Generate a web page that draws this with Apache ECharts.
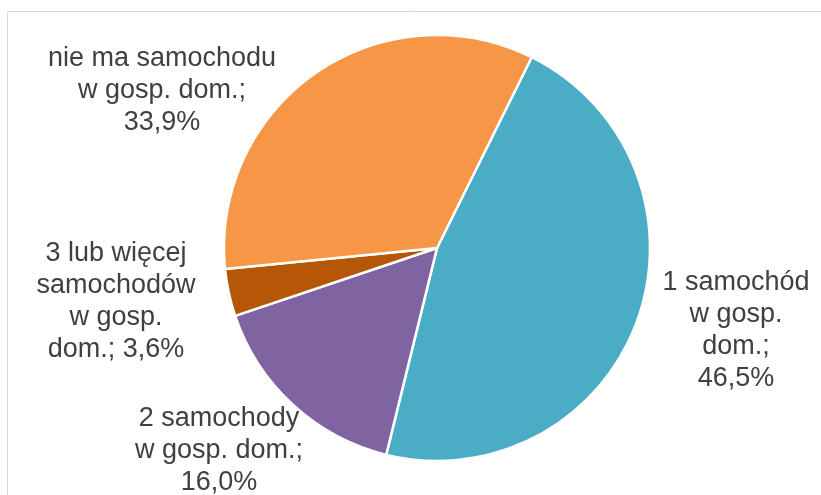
<!DOCTYPE html>
<html>
<head>
<meta charset="utf-8">
<script src="https://cdn.jsdelivr.net/npm/echarts@6/dist/echarts.min.js"></script>
<style>
html,body{margin:0;padding:0;background:#fff;}
#chart{width:821px;height:495px;}
</style>
</head>
<body>
<div id="chart"></div>
<script>
// Data
const categories = ['1 samochód w gosp. dom.', '2 samochody w gosp. dom.', '3 lub więcej samochodów w gosp. dom.', 'nie ma samochodu w gosp. dom.'];
const values = [46.5, 16.0, 3.6, 33.9];
const labelLines = [
  ['1 samochód', 'w gosp.', 'dom.;', '46,5%'],
  ['2 samochody', 'w gosp. dom.;', '16,0%'],
  ['3 lub więcej', 'samochodów', 'w gosp.', 'dom.; 3,6%'],
  ['nie ma samochodu', 'w gosp. dom.;', '33,9%']
];
const colors = ['#4BACC6', '#8064A2', '#B65708', '#F79646'];

// Label placement (centres of label blocks, Excel-like layout)
const labelPos = [[736, 331], [219, 451], [116, 302], [162, 91]];

const chart = echarts.init(document.getElementById('chart'), null, {renderer: 'canvas'});
chart.setOption({
  animation: false,
  graphic: [{
    type: 'rect',
    shape: {x: 7.5, y: 11.5, width: 900, height: 600},
    style: {fill: 'none', stroke: '#D9D9D9', lineWidth: 1},
    silent: true
  }],
  series: [{
    type: 'pie',
    center: [437, 248],
    radius: 213,
    startAngle: 63.6,
    clockwise: true,
    data: categories.map((c, i) => ({
      name: c,
      value: values[i],
      itemStyle: {color: colors[i]},
      label: {formatter: labelLines[i].join('\n')}
    })),
    itemStyle: {borderColor: '#ffffff', borderWidth: 2.5},
    label: {
      show: true,
      position: 'outside',
      alignTo: 'none',
      overflow: 'none',
      width: 300,
      color: '#404040',
      fontFamily: 'Liberation Sans, Arial, sans-serif',
      fontSize: 27,
      lineHeight: 32,
      align: 'center'
    },
    labelLine: {show: false},
    labelLayout: function (params) {
      const p = labelPos[params.dataIndex];
      return {x: p[0], y: p[1], align: 'center', verticalAlign: 'middle', hideOverlap: false, moveOverlap: false};
    }
  }]
});
</script>
</body>
</html>
